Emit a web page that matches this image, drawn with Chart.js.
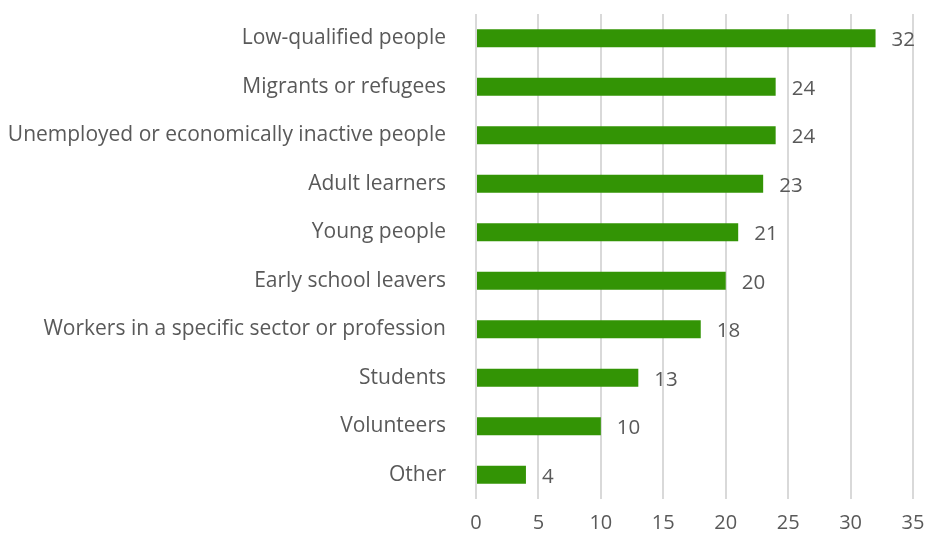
<!DOCTYPE html>
<html>
<head>
<meta charset="utf-8">
<script src="https://cdn.jsdelivr.net/npm/chart.js@4/dist/chart.umd.min.js"></script>
<style>
  html, body { margin: 0; padding: 0; background: #ffffff; }
  #wrap { width: 928px; height: 540px; position: relative; }
</style>
</head>
<body>
<div id="wrap"><canvas id="chart" width="928" height="540"></canvas></div>
<script>
const categories = [
  'Low-qualified people',
  'Migrants or refugees',
  'Unemployed or economically inactive people',
  'Adult learners',
  'Young people',
  'Early school leavers',
  'Workers in a specific sector or profession',
  'Students',
  'Volunteers',
  'Other'
];
const counts = [32, 24, 24, 23, 21, 20, 18, 13, 10, 4];
const xTicks = [0, 5, 10, 15, 20, 25, 30, 35];

const FONT = "'Open Sans', 'Liberation Sans', sans-serif";
const TEXT = '#595959';

// Writes each bar's value just past its end
const valueLabels = {
  id: 'valueLabels',
  afterDatasetsDraw(chart) {
    const ctx = chart.ctx;
    const meta = chart.getDatasetMeta(0);
    ctx.save();
    ctx.font = '20.5px ' + FONT;
    ctx.fillStyle = TEXT;
    ctx.textAlign = 'left';
    ctx.textBaseline = 'middle';
    meta.data.forEach((bar, i) => {
      ctx.fillText(String(counts[i]), bar.x + 16, bar.y + 2);
    });
    ctx.restore();
  }
};

new Chart(document.getElementById('chart'), {
  type: 'bar',
  data: {
    labels: categories,
    datasets: [{
      data: counts,
      backgroundColor: '#339405',
      borderWidth: 0,
      barPercentage: 0.74,
      categoryPercentage: 0.5
    }]
  },
  options: {
    indexAxis: 'y',
    responsive: false,
    animation: false,
    layout: { padding: { top: 14, right: 15, bottom: 0, left: 0 } },
    plugins: { legend: { display: false }, tooltip: { enabled: false } },
    scales: {
      x: {
        min: 0,
        max: 35,
        afterBuildTicks(axis) { axis.ticks = xTicks.map(v => ({ value: v })); },
        afterFit(axis) { axis.height = 41; axis.paddingLeft = 0; axis.paddingRight = 0; },
        grid: { color: '#d9d9d9', lineWidth: 2, drawTicks: false },
        border: { display: false },
        ticks: { color: TEXT, font: { family: FONT, size: 20 }, padding: 12 }
      },
      y: {
        grid: { display: false },
        border: { display: false },
        afterFit(axis) { axis.width = 476; axis.paddingTop = 0; axis.paddingBottom = 0; },
        ticks: { color: TEXT, font: { family: FONT, size: 21 }, padding: 22 }
      }
    }
  },
  plugins: [valueLabels]
});
</script>
</body>
</html>
